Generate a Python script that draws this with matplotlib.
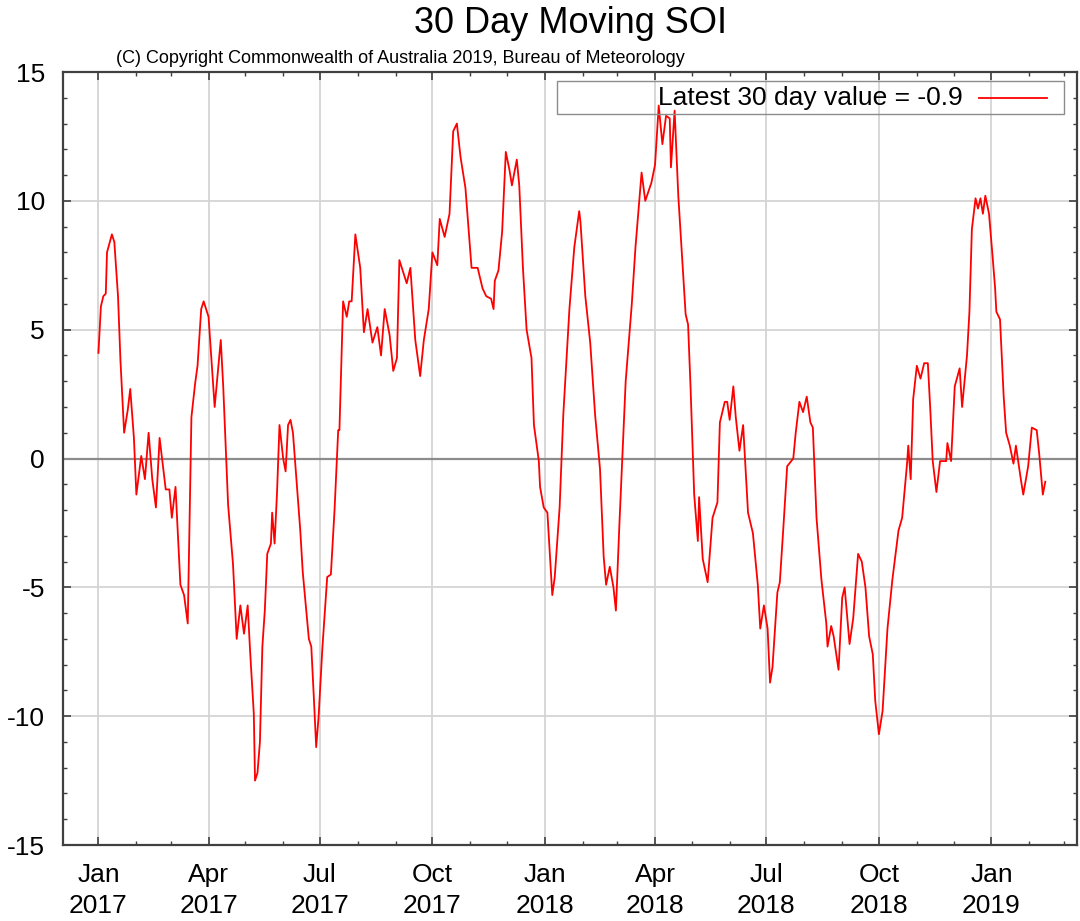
import matplotlib
matplotlib.use('Agg')
import matplotlib.pyplot as plt
import matplotlib.dates as mdates
from matplotlib.ticker import MultipleLocator
from matplotlib.patches import Rectangle
import numpy as np

# days since 2017-01-01 and 30 day moving SOI
days = [0, 2, 4, 6, 7, 11, 13, 16, 18, 21, 24, 26, 29, 31, 35, 38, 41, 44, 47, 50,
        55, 58, 60, 63, 67, 70, 73, 76, 79, 81, 84, 86, 90, 95, 100, 102, 106, 110, 113, 116,
        119, 122, 124, 127, 128, 130, 132, 134, 136, 138, 141, 142, 144, 146, 148, 151, 153, 155, 157, 159,
        165, 167, 172, 174, 176, 178, 180, 183, 187, 190, 193, 196, 197, 200, 203, 205, 207, 210, 214, 217,
        220, 224, 228, 231, 234, 238, 241, 244, 246, 252, 255, 259, 263, 266, 270, 273, 277, 279, 283, 287,
        290, 293, 296, 300, 305, 310, 314, 317, 321, 323, 324, 327, 330, 333, 336, 338, 342, 344, 347, 350,
        354, 356, 360, 361, 364, 367, 371, 373, 377, 380, 385, 389, 393, 394, 398, 402, 406, 410, 413, 415,
        418, 421, 423, 426, 431, 436, 439, 444, 447, 452, 455, 458, 461, 464, 467, 468, 471, 474, 477, 480,
        482, 484, 487, 490, 491, 494, 498, 502, 506, 508, 512, 514, 516, 519, 521, 524, 527, 531, 535, 539,
        541, 544, 547, 549, 551, 555, 557, 560, 563, 568, 570, 573, 576, 579, 582, 584, 587, 591, 595, 596,
        599, 601, 605, 608, 610, 614, 617, 621, 624, 627, 630, 633, 635, 638, 641, 645, 649, 654, 657, 661,
        662, 664, 666, 669, 672, 675, 678, 680, 682, 685, 688, 693, 694, 697, 700, 704, 706, 710, 712, 714,
        717, 719, 721, 723, 725, 728, 731, 733, 734, 737, 740, 742, 745, 748, 750, 754, 756, 760, 763, 767,
        769, 772, 774]
soi = [4.1, 5.9, 6.3, 6.4, 8.0, 8.7, 8.4, 6.3, 3.8, 1.0, 1.9, 2.7, 0.8, -1.4, 0.1, -0.8, 1.0, -0.8, -1.9, 0.8,
       -1.2, -1.2, -2.3, -1.1, -4.9, -5.3, -6.4, 1.6, 2.9, 3.6, 5.8, 6.1, 5.5, 2.0, 4.6, 2.8, -1.8, -4.1, -7.0, -5.7,
       -6.8, -5.7, -7.5, -9.9, -12.5, -12.2, -11.0, -7.3, -5.9, -3.7, -3.3, -2.1, -3.3, -1.3, 1.3, 0.0, -0.5, 1.3, 1.5, 1.0,
       -2.8, -4.4, -7.0, -7.3, -9.2, -11.2, -10.0, -7.4, -4.6, -4.5, -2.0, 1.1, 1.1, 6.1, 5.5, 6.1, 6.1, 8.7, 7.4, 4.9,
       5.8, 4.5, 5.1, 4.0, 5.8, 4.8, 3.4, 3.9, 7.7, 6.8, 7.4, 4.6, 3.2, 4.6, 5.8, 8.0, 7.5, 9.3, 8.6, 9.5,
       12.7, 13.0, 11.7, 10.5, 7.4, 7.4, 6.6, 6.3, 6.2, 5.8, 6.9, 7.3, 8.8, 11.9, 11.2, 10.6, 11.6, 10.6, 7.4, 5.0,
       3.9, 1.3, -0.1, -1.1, -1.9, -2.1, -5.3, -4.6, -1.9, 1.7, 5.8, 8.2, 9.6, 9.2, 6.3, 4.5, 1.7, -0.4, -3.8, -4.9,
       -4.2, -5.0, -5.9, -2.4, 3.0, 6.0, 8.2, 11.1, 10.0, 10.7, 11.4, 13.7, 12.2, 13.3, 13.2, 11.3, 13.5, 10.2, 7.9, 5.6,
       5.2, 2.8, -1.4, -3.2, -1.5, -3.9, -4.8, -2.3, -1.7, 1.4, 2.2, 2.2, 1.5, 2.8, 1.6, 0.3, 1.3, -2.1, -2.9, -4.9,
       -6.6, -5.7, -6.6, -8.7, -8.1, -5.2, -4.8, -2.6, -0.3, 0.0, 1.0, 2.2, 1.8, 2.4, 1.4, 1.2, -2.3, -4.7, -6.4, -7.3,
       -6.5, -6.9, -8.2, -5.4, -5.0, -7.2, -6.2, -3.7, -4.0, -5.0, -6.9, -7.6, -9.4, -10.7, -9.8, -6.6, -4.7, -2.8, -2.3, -0.2,
       0.5, -0.8, 2.3, 3.6, 3.1, 3.7, 3.7, 1.9, -0.1, -1.3, -0.1, -0.1, 0.6, -0.1, 2.8, 3.5, 2.0, 4.0, 5.7, 8.9,
       10.1, 9.7, 10.1, 9.5, 10.2, 9.5, 7.8, 6.6, 5.7, 5.4, 2.4, 1.0, 0.5, -0.2, 0.5, -0.8, -1.4, -0.3, 1.2, 1.1,
       0.2, -1.4, -0.9]
latest = -0.9

dates = np.datetime64('2017-01-01') + np.array(days).astype('timedelta64[D]')

plt.rcParams['font.family'] = ['Liberation Sans', 'DejaVu Sans']
plt.rcParams['axes.unicode_minus'] = False

fig = plt.figure(figsize=(10.8, 9.21), dpi=100)
ax = fig.add_axes([0.0583, 0.0825, 0.939, 0.8393])

ax.plot(dates, soi, color='#ff0000', lw=1.3, zorder=3)
ax.axhline(0, color='#8c8c8c', lw=1.6, zorder=2)

ax.set_ylim(-15, 15)
ax.set_xlim(np.datetime64('2016-12-03'), np.datetime64('2019-03-12'))

ax.xaxis.set_major_locator(mdates.MonthLocator(bymonth=[1, 4, 7, 10]))
ax.xaxis.set_minor_locator(mdates.MonthLocator())
ax.xaxis.set_major_formatter(mdates.DateFormatter('%b\n%Y'))
ax.yaxis.set_major_locator(MultipleLocator(5))
ax.yaxis.set_minor_locator(MultipleLocator(1))

ax.grid(which='major', color='#d4d4d4', lw=1.3, zorder=1)
ax.tick_params(which='both', direction='in', top=True, right=True, color='#404040')
ax.tick_params(which='major', length=6, width=1.2, labelsize=19)
ax.tick_params(which='minor', length=3, width=1.0)
ax.tick_params(axis='x', which='major', pad=13)
ax.tick_params(axis='y', which='major', pad=13)
for lab in ax.get_xticklabels():
    lab.set_linespacing(1.35)
for s in ax.spines.values():
    s.set_color('#404040')
    s.set_linewidth(1.6)

# gnuplot style key: text then sample, no fill
ax.add_patch(Rectangle((0.487, 0.946), 0.5, 0.042, transform=ax.transAxes,
                       fill=False, edgecolor='#8c8c8c', lw=1.0, zorder=4))
ax.text(0.887, 0.967, 'Latest 30 day value = %.1f' % latest, transform=ax.transAxes,
        ha='right', va='center', fontsize=19, zorder=5)
ax.plot([0.903, 0.970], [0.967, 0.967], transform=ax.transAxes, color='#ff0000', lw=1.3, zorder=5)

fig.text(0.528, 0.974, '30 Day Moving SOI', ha='center', va='center', fontsize=26)
fig.text(0.107, 0.937, '(C) Copyright Commonwealth of Australia 2019, Bureau of Meteorology',
         ha='left', va='center', fontsize=13)

fig.savefig('out.png', dpi=100)
